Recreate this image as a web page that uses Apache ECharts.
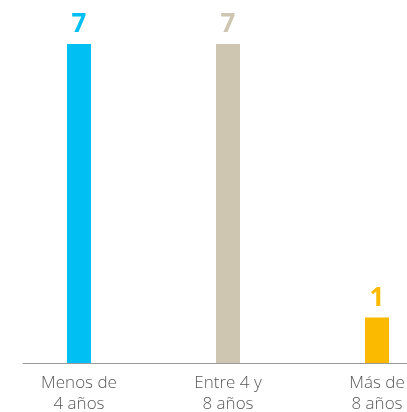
<!DOCTYPE html>
<html>
<head>
<meta charset="utf-8">
<script src="https://cdn.jsdelivr.net/npm/echarts@6/dist/echarts.min.js"></script>
<style>
    html, body { margin: 0; padding: 0; background: #fff; }
    #main { width: 407px; height: 412px; }
</style>
</head>
<body>
<div id="main"></div>
<script>
// chart data
var categories = ['Menos de\n4 años', 'Entre 4 y\n8 años', 'Más de\n8 años'];
var values = [7, 7, 1];
var colors = ['#00bff3', '#cfc6b2', '#fbb900'];

function initChart(){
    var myChart = echarts.init(document.getElementById('main'));
    var option = {
        animation: false,
        grid: [
            { left: 4.5, width: 447, top: 44, bottom: 49, outerBoundsMode: 'none', containLabel: false },
            { left: 23, right: 0, top: 44, bottom: 49, outerBoundsMode: 'none', containLabel: false }
        ],
        xAxis: [
            {
                type: 'category',
                gridIndex: 0,
                data: categories,
                axisLine: { show: false },
                axisTick: { show: false },
                axisLabel: {
                    color: '#595959',
                    fontFamily: 'Open Sans',
                    fontWeight: 300,
                    fontSize: 17,
                    lineHeight: 21,
                    margin: 10
                }
            },
            {
                type: 'value',
                gridIndex: 1,
                axisLine: { show: true, lineStyle: { color: '#999999', width: 1 } },
                axisTick: { show: false },
                axisLabel: { show: false },
                splitLine: { show: false }
            }
        ],
        yAxis: [
            { type: 'value', gridIndex: 0, min: 0, max: 7, show: false },
            { type: 'value', gridIndex: 1, show: false }
        ],
        series: [
            {
                type: 'bar',
                xAxisIndex: 0,
                yAxisIndex: 0,
                barWidth: 24,
                data: values.map(function (v, i) {
                    return {
                        value: v,
                        itemStyle: { color: colors[i] },
                        label: { color: colors[i] }
                    };
                }),
                label: {
                    show: true,
                    position: 'top',
                    distance: 6,
                    fontFamily: 'Open Sans',
                    fontWeight: 'bold',
                    fontSize: 26
                }
            }
        ]
    };
    myChart.setOption(option);
}

initChart();
</script>
</body>
</html>
